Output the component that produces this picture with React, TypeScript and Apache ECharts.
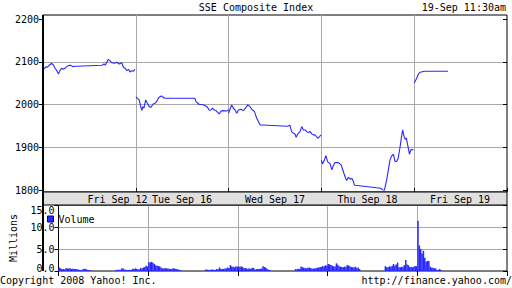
import React, { useEffect, useRef } from 'react';
import * as echarts from 'echarts';

// ---------------- data ----------------
const title = 'SSE Composite Index';
const stamp = '19-Sep 11:30am';
const copyright = 'Copyright 2008 Yahoo! Inc.';
const source = 'http://finance.yahoo.com/';
const days = ['Fri Sep 12', 'Tue Sep 16', 'Wed Sep 17', 'Thu Sep 18', 'Fri Sep 19'];
const priceTicks = [1800, 1900, 2000, 2100, 2200];
const volumeTicks = [0, 5, 10, 15];

const fri12Price: [string, number][] = [
  ['09:30', 2088.6], ['09:34', 2083.1], ['09:41', 2088.6], ['09:45', 2087.0], ['09:53', 2092.5],
  ['10:01', 2096.4], ['10:07', 2092.5], ['10:13', 2084.7], ['10:19', 2079.2], ['10:25', 2071.4],
  ['10:30', 2079.2], ['10:36', 2084.7], ['10:42', 2082.3], ['10:48', 2084.7], ['10:54', 2088.6],
  ['11:00', 2090.9], ['11:08', 2091.7], ['11:16', 2088.6], ['11:24', 2089.4], ['11:30', 2089.4],
  ['13:00', 2091.7], ['13:07', 2094.8], ['13:12', 2092.5], ['13:22', 2105.7], ['13:28', 2102.6],
  ['13:34', 2097.9], ['13:46', 2096.4], ['13:52', 2098.7], ['14:01', 2094.8], ['14:10', 2097.9],
  ['14:16', 2087.0], ['14:22', 2084.7], ['14:28', 2079.2], ['14:34', 2082.3], ['14:39', 2076.1],
  ['14:45', 2079.2], ['14:51', 2077.7], ['14:57', 2082.3],
];
const tue16Price: [string, number][] = [
  ['09:30', 2017.7], ['09:42', 2010.7], ['09:51', 1986.0], ['09:55', 1995.0], ['09:59', 1991.2],
  ['10:05', 2010.7], ['10:11', 2002.9], ['10:18', 1995.0], ['10:24', 1993.6], ['10:32', 2001.3],
  ['10:38', 2002.9], ['10:44', 2006.7], ['10:50', 2014.6], ['10:56', 2018.4], ['11:02', 2020.0],
  ['11:08', 2016.1], ['11:14', 2014.6], ['11:30', 2014.6], ['13:00', 2014.6], ['13:04', 2006.7],
  ['13:16', 2000.0], ['13:27', 2000.0], ['13:39', 1996.6], ['13:45', 1993.6], ['13:51', 1986.5],
  ['13:57', 1987.3], ['14:03', 1991.2], ['14:09', 1987.3], ['14:15', 1985.7], ['14:27', 1978.0],
  ['14:33', 1984.9], ['14:39', 1985.7], ['14:53', 1984.9], ['15:00', 1987.0],
];
const wed17Price: [string, number][] = [
  ['09:30', 1979.6], ['09:35', 1988.9], ['09:41', 1999.0], ['09:47', 1991.2], ['09:53', 1987.3],
  ['09:59', 1979.6], ['10:05', 1987.3], ['10:14', 1988.9], ['10:22', 1985.7], ['10:28', 1989.6],
  ['10:38', 1999.0], ['10:46', 1995.0], ['10:52', 1988.9], ['11:02', 1983.3], ['11:10', 1967.8],
  ['11:16', 1960.0], ['11:22', 1952.2], ['11:30', 1952.2], ['13:00', 1949.2], ['13:08', 1951.5],
  ['13:14', 1936.6], ['13:20', 1932.8], ['13:26', 1931.2], ['13:30', 1923.4], ['13:36', 1931.2],
  ['13:44', 1936.6], ['13:50', 1948.3], ['13:56', 1940.5], ['14:02', 1940.5], ['14:08', 1936.6],
  ['14:13', 1934.3], ['14:20', 1936.6], ['14:26', 1931.2], ['14:31', 1929.0], ['14:37', 1929.0],
  ['14:47', 1921.1], ['14:53', 1924.9], ['14:59', 1929.0],
];
const thu18Price: [string, number][] = [
  ['09:30', 1870.4], ['09:34', 1861.1], ['09:40', 1868.8], ['09:46', 1880.5], ['09:52', 1866.5],
  ['10:01', 1861.1], ['10:07', 1847.0], ['10:12', 1856.4], ['10:18', 1864.1], ['10:30', 1864.1],
  ['10:40', 1858.7], ['10:44', 1850.9], ['10:50', 1839.2], ['10:56', 1827.6], ['11:00', 1822.0],
  ['11:06', 1830.0], ['11:12', 1825.2], ['11:18', 1827.6], ['11:24', 1819.7], ['11:27', 1812.0],
  ['11:30', 1811.2], ['13:00', 1804.2], ['13:06', 1801.9], ['13:13', 1796.3], ['13:22', 1823.6],
  ['13:28', 1847.0], ['13:34', 1870.4], ['13:40', 1879.8], ['13:46', 1883.6], ['13:52', 1866.5],
  ['13:57', 1866.5], ['14:03', 1874.2], ['14:09', 1897.6], ['14:15', 1924.9], ['14:19', 1940.5],
  ['14:24', 1924.9], ['14:28', 1918.8], ['14:32', 1921.1], ['14:38', 1901.5], ['14:43', 1883.6],
  ['14:48', 1893.8], ['14:52', 1894.6], ['14:57', 1893.8],
];
const fri19Price: [string, number][] = [
  ['09:30', 2050.5], ['09:39', 2061.3], ['09:45', 2071.4], ['09:51', 2075.3], ['10:08', 2077.7],
  ['11:30', 2077.7],
];

// 5-minute volume (millions): 24 morning bars from 09:30, then 24 afternoon bars from 13:00
const fri12Volume = [
  0.8, 0.6, 0.45, 0.45, 0.35, 0.6, 0.6, 0.55, 0.6, 0.45, 0.5, 0.45,
  0.45, 0.4, 0.35, 0.25, 0.25, 0.3, 0.45, 0.5, 0.4, 0.25, 0.25, 0.15,
  0.25, 0.25, 0.3, 0.25, 0.6, 0.55, 0.35, 0.3, 0.25, 0.25, 0.3, 0.25,
  0.5, 0.45, 0.6, 0.5, 0.4, 0.35, 0.7, 0.55, 0.8, 0.9, 1.2, 1.05,
];
const tue16Volume = [
  2.0, 1.95, 2.1, 1.9, 1.6, 1.3, 1.2, 1.15, 1.0, 0.8, 0.6, 0.55,
  0.7, 0.6, 0.55, 0.5, 0.45, 0.5, 0.6, 0.55, 0.45, 0.4, 0.3, 0.25,
  0.35, 0.3, 0.25, 0.2, 0.35, 0.3, 0.3, 0.25, 0.45, 0.4, 0.8, 0.45,
  0.5, 0.45, 0.55, 0.6, 0.8, 0.7, 1.35, 1.05, 0.95, 0.85, 1.0, 1.0,
];
const wed17Volume = [
  1.0, 0.95, 1.05, 0.9, 0.65, 0.7, 0.55, 0.5, 0.6, 0.45, 0.75, 0.7,
  0.35, 0.4, 0.45, 0.45, 0.5, 0.55, 1.1, 0.9, 0.75, 0.5, 0.3, 0.2,
  0.45, 0.4, 0.5, 0.45, 1.0, 0.85, 0.75, 0.7, 0.6, 0.75, 0.8, 0.65,
  0.55, 0.5, 0.6, 0.65, 0.75, 0.8, 0.9, 0.95, 1.15, 1.05, 1.3, 1.2,
];
const thu18Volume = [
  1.6, 1.5, 1.35, 1.2, 1.05, 1.0, 1.75, 1.4, 1.1, 1.0, 0.9, 0.85,
  1.0, 0.95, 1.35, 1.25, 1.05, 0.9, 0.85, 0.8, 1.0, 0.65, 0.8, 0.45,
  1.1, 0.85, 0.85, 1.05, 0.95, 1.2, 1.6, 1.2, 1.5, 1.9, 0.85, 0.85,
  0.95, 0.95, 1.35, 2.5, 1.5, 1.3, 0.9, 0.9, 0.85, 1.0, 1.1, 1.1,
];
const fri19Volume = [
  11.4, 5.8, 5.0, 4.0, 4.6, 3.0, 2.1, 2.3, 2.3, 1.0, 0.75, 0.75,
  0.6, 0.6, 0.25, 0.25, 0.45, 0.15,
];

// ---------------- layout / styles ----------------
const FONT = 'DejaVu Sans Mono';
const BLUE = '#2828ff';
const GRID_GRAY = '#a8a8a8';
const SESSION = 330; // 09:30 - 15:00 in minutes
const dayLabelX = [117.5, 182, 275, 367.5, 460];

const minutesOf = (clock: string) => {
  const [h, m] = clock.split(':').map(Number);
  return h * 60 + m - 570;
};

const priceDays = [fri12Price, tue16Price, wed17Price, thu18Price, fri19Price];
const volumeDays = [fri12Volume, tue16Volume, wed17Volume, thu18Volume, fri19Volume];

const priceData: (number | null)[][] = [];
priceDays.forEach((day, d) => {
  day.forEach(([c, v]) => priceData.push([d * SESSION + minutesOf(c), v]));
  priceData.push([d * SESSION + SESSION - 1, null]);
});

const volumeData: number[][] = [];
volumeDays.forEach((day, d) => {
  day.forEach((v, i) => {
    const start = i < 24 ? i * 5 : 210 + (i - 24) * 5;
    volumeData.push([d * SESSION + start + 2.5, v]);
  });
});

const volMin = volumeTicks[0];
const volMax = volumeTicks[volumeTicks.length - 1];
const volumeLabel = (v: any) => {
  const n = Number(v);
  const s = n.toFixed(1);
  if (n === volMax) return `{top|${s}}`;
  if (n === volMin) return `{bot|${s}}`;
  return `{mid|${s}}`;
};

const labelStyle = { fontFamily: FONT, fontSize: 10, color: '#000' };
const textStyle = (text: string, x: number, y: number, align: string) => ({
  type: 'text',
  x,
  y,
  style: { text, fill: '#000', font: `10px "${FONT}"`, align, verticalAlign: 'middle' },
  z: 10,
});

const option: any = {
  animation: false,
  backgroundColor: '#fff',
  grid: [
    { left: 43, top: 15, width: 464, height: 177, show: true, borderColor: '#000', borderWidth: 1, backgroundColor: '#fff' },
    { left: 43, top: 19, width: 464, height: 171 },
    { left: 43, top: 205, width: 464, height: 66, show: true, borderColor: '#000', borderWidth: 1, backgroundColor: '#fff' },
  ],
  xAxis: [
    {
      gridIndex: 0, type: 'value', min: 0, max: SESSION * 5, interval: SESSION, position: 'bottom',
      axisLine: { show: false }, axisLabel: { show: false },
      axisTick: { show: true, inside: true, length: 4, lineStyle: { color: '#000' } },
      splitLine: { show: true, showMinLine: false, showMaxLine: false, lineStyle: { color: GRID_GRAY, width: 1 } },
    },
    { gridIndex: 1, type: 'value', min: 0, max: SESSION * 5, show: false },
    {
      gridIndex: 2, type: 'value', min: 0, max: SESSION * 5, interval: SESSION, position: 'top',
      axisLine: { show: false }, axisLabel: { show: false },
      axisTick: { show: true, inside: true, length: 5, lineStyle: { color: '#000' } },
      splitLine: { show: true, showMinLine: false, showMaxLine: false, lineStyle: { color: GRID_GRAY, width: 1 } },
    },
  ],
  yAxis: [
    { gridIndex: 0, type: 'value', min: 0, max: 1, show: false },
    {
      gridIndex: 1, type: 'value', min: priceTicks[0], max: priceTicks[priceTicks.length - 1], interval: 100,
      position: 'left', axisLine: { show: false },
      axisTick: { show: true, length: 4, lineStyle: { color: '#000' } },
      axisLabel: { ...labelStyle, margin: 4, formatter: (v: any) => String(Math.round(Number(v))) },
      splitLine: { show: true, showMinLine: false, showMaxLine: false, lineStyle: { color: GRID_GRAY, width: 1 } },
    },
    {
      gridIndex: 1, type: 'value', min: priceTicks[0], max: priceTicks[priceTicks.length - 1], interval: 100,
      position: 'right', axisLine: { show: false }, axisLabel: { show: false }, splitLine: { show: false },
      axisTick: { show: true, inside: true, length: 4, lineStyle: { color: '#000' } },
    },
    {
      gridIndex: 2, type: 'value', min: volMin, max: volMax, interval: 5,
      position: 'left', axisLine: { show: false },
      name: 'Millions', nameLocation: 'middle', nameRotate: 90, nameGap: 40.5, nameMoveOverlap: false,
      nameTextStyle: { fontFamily: FONT, fontSize: 10, color: '#000' },
      axisTick: { show: true, length: 4, lineStyle: { color: '#000' } },
      axisLabel: {
        ...labelStyle, margin: 4, formatter: volumeLabel,
        rich: {
          top: { fontFamily: FONT, fontSize: 10, color: '#000', padding: [10, 0, 0, 0] },
          bot: { fontFamily: FONT, fontSize: 10, color: '#000', padding: [0, 0, 6, 0] },
          mid: { fontFamily: FONT, fontSize: 10, color: '#000' },
        },
      },
      splitLine: { show: true, showMinLine: false, showMaxLine: false, lineStyle: { color: GRID_GRAY, width: 1 } },
    },
    {
      gridIndex: 2, type: 'value', min: volMin, max: volMax, interval: 5,
      position: 'right', axisLine: { show: false }, axisLabel: { show: false }, splitLine: { show: false },
      axisTick: { show: true, inside: true, length: 4, lineStyle: { color: '#000' } },
    },
  ],
  legend: {
    data: ['Volume'], left: 47, top: 214, padding: 0, icon: 'rect', itemWidth: 6, itemHeight: 6,
    itemStyle: { borderColor: '#000080', borderWidth: 1 },
    textStyle: { fontFamily: FONT, fontSize: 10, color: '#000' },
  },
  series: [
    {
      type: 'line', name: 'SSE Composite', xAxisIndex: 1, yAxisIndex: 1, data: priceData,
      showSymbol: false, symbol: 'none', connectNulls: false,
      lineStyle: { color: BLUE, width: 1.1 }, itemStyle: { color: BLUE }, z: 5,
    },
    {
      type: 'bar', name: 'Volume', xAxisIndex: 2, yAxisIndex: 3, data: volumeData,
      barWidth: 1.5, itemStyle: { color: BLUE }, z: 5,
    },
  ],
  graphic: [
    { type: 'rect', shape: { x: 43, y: 192, width: 464, height: 13 }, style: { fill: '#e0e0e0', stroke: '#000', lineWidth: 1 }, z: 1 },
    { type: 'rect', shape: { x: 42, y: 15, width: 2, height: 256 }, style: { fill: '#000' }, z: 20 },
    textStyle(title, 256, 7.5, 'center'),
    textStyle(stamp, 506, 7.5, 'right'),
    textStyle(copyright, 0, 280, 'left'),
    textStyle(source, 512, 280, 'right'),
    ...days.map((d, i) => textStyle(d, dayLabelX[i], 199, 'center')),
  ],
};

export default function App() {
  const ref = useRef<HTMLDivElement>(null);
  useEffect(() => {
    const chart = echarts.init(ref.current as HTMLDivElement, null, { renderer: 'svg' });
    chart.setOption(option);
    return () => chart.dispose();
  }, []);
  return (
    <div
      ref={ref}
      style={{ position: 'fixed', left: 0, top: 0, width: 512, height: 288, background: '#fff' }}
    />
  );
}
